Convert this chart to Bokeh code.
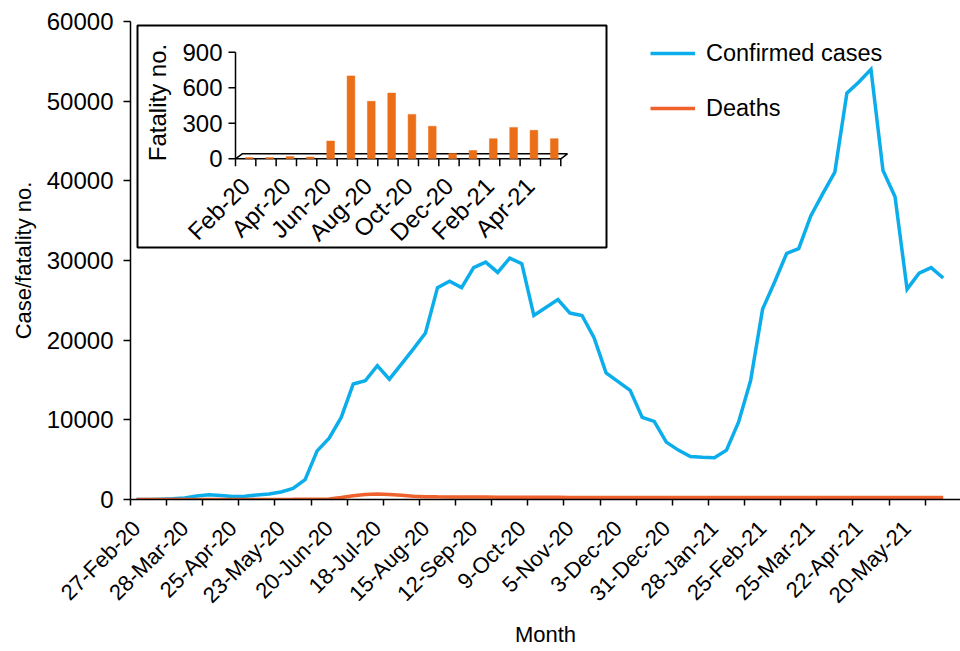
import math
from bokeh.plotting import figure
from bokeh.models import (Range1d, LinearAxis, FixedTicker, Legend, LegendItem,
                          ColumnDataSource)
from bokeh.core.properties import value
from bokeh.embed import file_html
from bokeh.resources import INLINE

# ---------------- data ----------------
# main chart: weekly points (category index 0..67), labelled every 4th week
date_labels = ["27-Feb-20", "28-Mar-20", "25-Apr-20", "23-May-20", "20-Jun-20",
               "18-Jul-20", "15-Aug-20", "12-Sep-20", "9-Oct-20", "5-Nov-20",
               "3-Dec-20", "31-Dec-20", "28-Jan-21", "25-Feb-21", "25-Mar-21",
               "22-Apr-21", "20-May-21"]
confirmed = [0, 0, 30, 80, 200, 450, 600, 500, 380, 420,
             560, 700, 950, 1400, 2500, 6100, 7700, 10300, 14500, 14900,
             16800, 15100, 17000, 18900, 20900, 26600, 27400, 26600, 29100, 29800,
             28500, 30300, 29600, 23100, 24100, 25100, 23400, 23100, 20300, 15900,
             14800, 13700, 10300, 9800, 7200, 6200, 5400, 5300, 5250, 6200,
             9700, 14900, 23900, 27300, 30900, 31500, 35600, 38400, 41100, 51000,
             52400, 54000, 41300, 38000, 26400, 28400, 29100, 27800]
deaths = [0, 0, 0, 0, 5, 5, 10, 10, 10, 10,
          10, 10, 15, 20, 30, 20, 60, 250, 480, 640,
          680, 620, 520, 420, 350, 330, 320, 310, 300, 300,
          290, 290, 280, 280, 270, 270, 265, 260, 260, 255,
          250, 250, 250, 245, 245, 240, 240, 240, 240, 240,
          245, 245, 250, 250, 250, 255, 255, 260, 260, 260,
          265, 265, 265, 260, 260, 255, 255, 250]
# inset: monthly fatalities
months = ["Feb-20", "Mar-20", "Apr-20", "May-20", "Jun-20", "Jul-20", "Aug-20",
          "Sep-20", "Oct-20", "Nov-20", "Dec-20", "Jan-21", "Feb-21", "Mar-21",
          "Apr-21", "May-21"]
fatalities = [10, 10, 20, 15, 150, 700, 485, 555, 375, 275, 45, 70, 170, 265, 240, 170]
inset_yticks = [0, 300, 600, 900]
main_yticks = [0, 10000, 20000, 30000, 40000, 50000, 60000]

N = len(confirmed)
FONT = "Liberation Sans"
FS = "22px"
FS_TICK = "24px"
FS_LEG = "23.5px"
BLUE = "#0BADEA"
RED = "#F0622D"
BAR = "#EB6E19"

# ---------------- layout constants (page pixels) ----------------
W, H = 960, 651
ML, MR, MT, MB = 130, 0, 21, 152
F_LEFT = ML
F_RIGHT = W - MR
F_TOP = MT
F_BOTTOM = H - MB
CAT_PX = 12.04  # pixels per weekly category

p = figure(width=W, height=H,
           x_range=Range1d(-0.5, -0.5 + (F_RIGHT - F_LEFT) / CAT_PX),
           y_range=Range1d(0, 60000),
           output_backend="svg", toolbar_location=None,
           min_border_left=ML, min_border_right=MR, min_border_top=MT, min_border_bottom=MB,
           outline_line_color=None, x_axis_type=None, y_axis_type=None,
           background_fill_color="white", border_fill_color="white")
p.xgrid.visible = False
p.ygrid.visible = False

# ---- axes ----
xt = FixedTicker(ticks=[4 * k for k in range(len(date_labels))],
                 minor_ticks=[3 * k - 0.5 for k in range(N // 3 + 1)])
xaxis = LinearAxis(ticker=xt,
                   major_label_overrides={4 * k: lab for k, lab in enumerate(date_labels)},
                   major_label_orientation=math.pi / 4,
                   major_tick_line_color=None, major_tick_out=6, major_tick_in=0,
                   minor_tick_line_color="black", minor_tick_out=6, minor_tick_in=0,
                   minor_tick_line_width=1.5,
                   axis_line_color="black", axis_line_width=1.5,
                   major_label_text_font=FONT, major_label_text_font_size=FS,
                   major_label_text_color="black", major_label_standoff=19,
                   axis_label="Month", axis_label_text_font=FONT,
                   axis_label_text_font_size=FS, axis_label_text_font_style="normal",
                   axis_label_text_color="black", axis_label_standoff=2)
p.add_layout(xaxis, "below")

yaxis = LinearAxis(ticker=FixedTicker(ticks=main_yticks),
                   major_tick_line_color="black", major_tick_out=7, major_tick_in=0,
                   major_tick_line_width=1.5, minor_tick_line_color=None,
                   axis_line_color="black", axis_line_width=1.5,
                   major_label_text_font=FONT, major_label_text_font_size=FS_TICK,
                   major_label_text_color="black", major_label_standoff=10,
                   axis_label="Case/fatality no.", axis_label_text_font=FONT,
                   axis_label_text_font_size=FS, axis_label_text_font_style="normal",
                   axis_label_text_color="black", axis_label_standoff=8)
p.add_layout(yaxis, "left")

# ---- main lines ----
weeks = list(range(N))
src = ColumnDataSource(dict(week=weeks, confirmed=confirmed, deaths=deaths))
r_conf = p.line("week", "confirmed", source=src, line_color=BLUE, line_width=3.5,
                line_join="miter")
r_death = p.line("week", "deaths", source=src, line_color=RED, line_width=3.5)

legend = Legend(items=[LegendItem(label="Confirmed cases", renderers=[r_conf]),
                       LegendItem(label="Deaths", renderers=[r_death])],
                location=(650 - F_LEFT, F_BOTTOM - 122), orientation="vertical",
                glyph_width=45, glyph_height=28, label_height=28, spacing=27,
                label_standoff=11, padding=0, margin=0,
                border_line_color=None, background_fill_alpha=0,
                label_text_font=FONT, label_text_font_size=FS_LEG, label_text_color="black")
p.add_layout(legend)

# ---------------- inset (drawn through its own ranges) ----------------
IX0 = 235.0      # page x of inset category boundary 0
IDX = 20.33      # page px per month category
IY0 = 158.3      # page y of value 0
IPX = 106.6 / 900.0  # page px per fatality unit


def iu(px):
    return (px - IX0) / IDX - 0.5


def iv(py):
    return (IY0 - py) / IPX


p.extra_x_ranges = {"ix": Range1d(iu(F_LEFT), iu(F_RIGHT))}
p.extra_y_ranges = {"iy": Range1d(iv(F_BOTTOM), iv(F_TOP))}
kw = dict(x_range_name="ix", y_range_name="iy")

# frame box
p.quad(left=[iu(137)], right=[iu(606)], top=[iv(25)], bottom=[iv(247)],
       fill_color="white", line_color="black", line_width=2, **kw)

nm = len(months)
dx = 6.7 / IDX
dy = 5.0 / IPX
# floor (pseudo 3-D axis)
p.patch(x=[-0.5, nm - 0.5, nm - 0.5 + dx, -0.5 + dx], y=[0, 0, dy, dy],
        fill_color="white", line_color="black", line_width=1.5, **kw)
# y axis line and ticks
p.segment(x0=[-0.5], y0=[0], x1=[-0.5], y1=[max(inset_yticks)], line_color="black",
          line_width=1.5, **kw)
tick_len = 7.0 / IDX
p.segment(x0=[-0.5 - tick_len] * len(inset_yticks), y0=inset_yticks,
          x1=[-0.5] * len(inset_yticks), y1=inset_yticks, line_color="black",
          line_width=1.5, **kw)
p.text(x=[-0.5 - tick_len - 6.0 / IDX] * len(inset_yticks), y=inset_yticks,
       text=[str(t) for t in inset_yticks], text_align="right", text_baseline="middle",
       text_font=value(FONT), text_font_size=value(FS_TICK), text_color="black", **kw)
# x ticks
xb = [j - 0.5 for j in range(nm + 1)]
p.segment(x0=xb, y0=[0] * len(xb), x1=xb, y1=[-7.5 / IPX] * len(xb),
          line_color="black", line_width=1.5, **kw)
# bars
msrc = ColumnDataSource(dict(m=[j + 0.18 for j in range(nm)], f=fatalities))
p.vbar(x="m", top="f", bottom=0, width=0.38, source=msrc, fill_color=BAR,
       line_color=BAR, line_width=0.5, **kw)
# x labels (every second month)
lab_idx = list(range(0, nm, 2))
p.text(x=lab_idx, y=[-23.0 / IPX] * len(lab_idx), text=[months[j] for j in lab_idx],
       angle=math.pi / 4, text_align="right", text_baseline="middle",
       text_font=value(FONT), text_font_size=value(FS_TICK), text_color="black", **kw)
# y title
p.text(x=[iu(157)], y=[iv(102)], text=["Fatality no."], angle=math.pi / 2,
       text_align="center", text_baseline="middle",
       text_font=value(FONT), text_font_size=value(FS_TICK), text_color="black", **kw)

open("out.html", "w").write(file_html(p, INLINE))
